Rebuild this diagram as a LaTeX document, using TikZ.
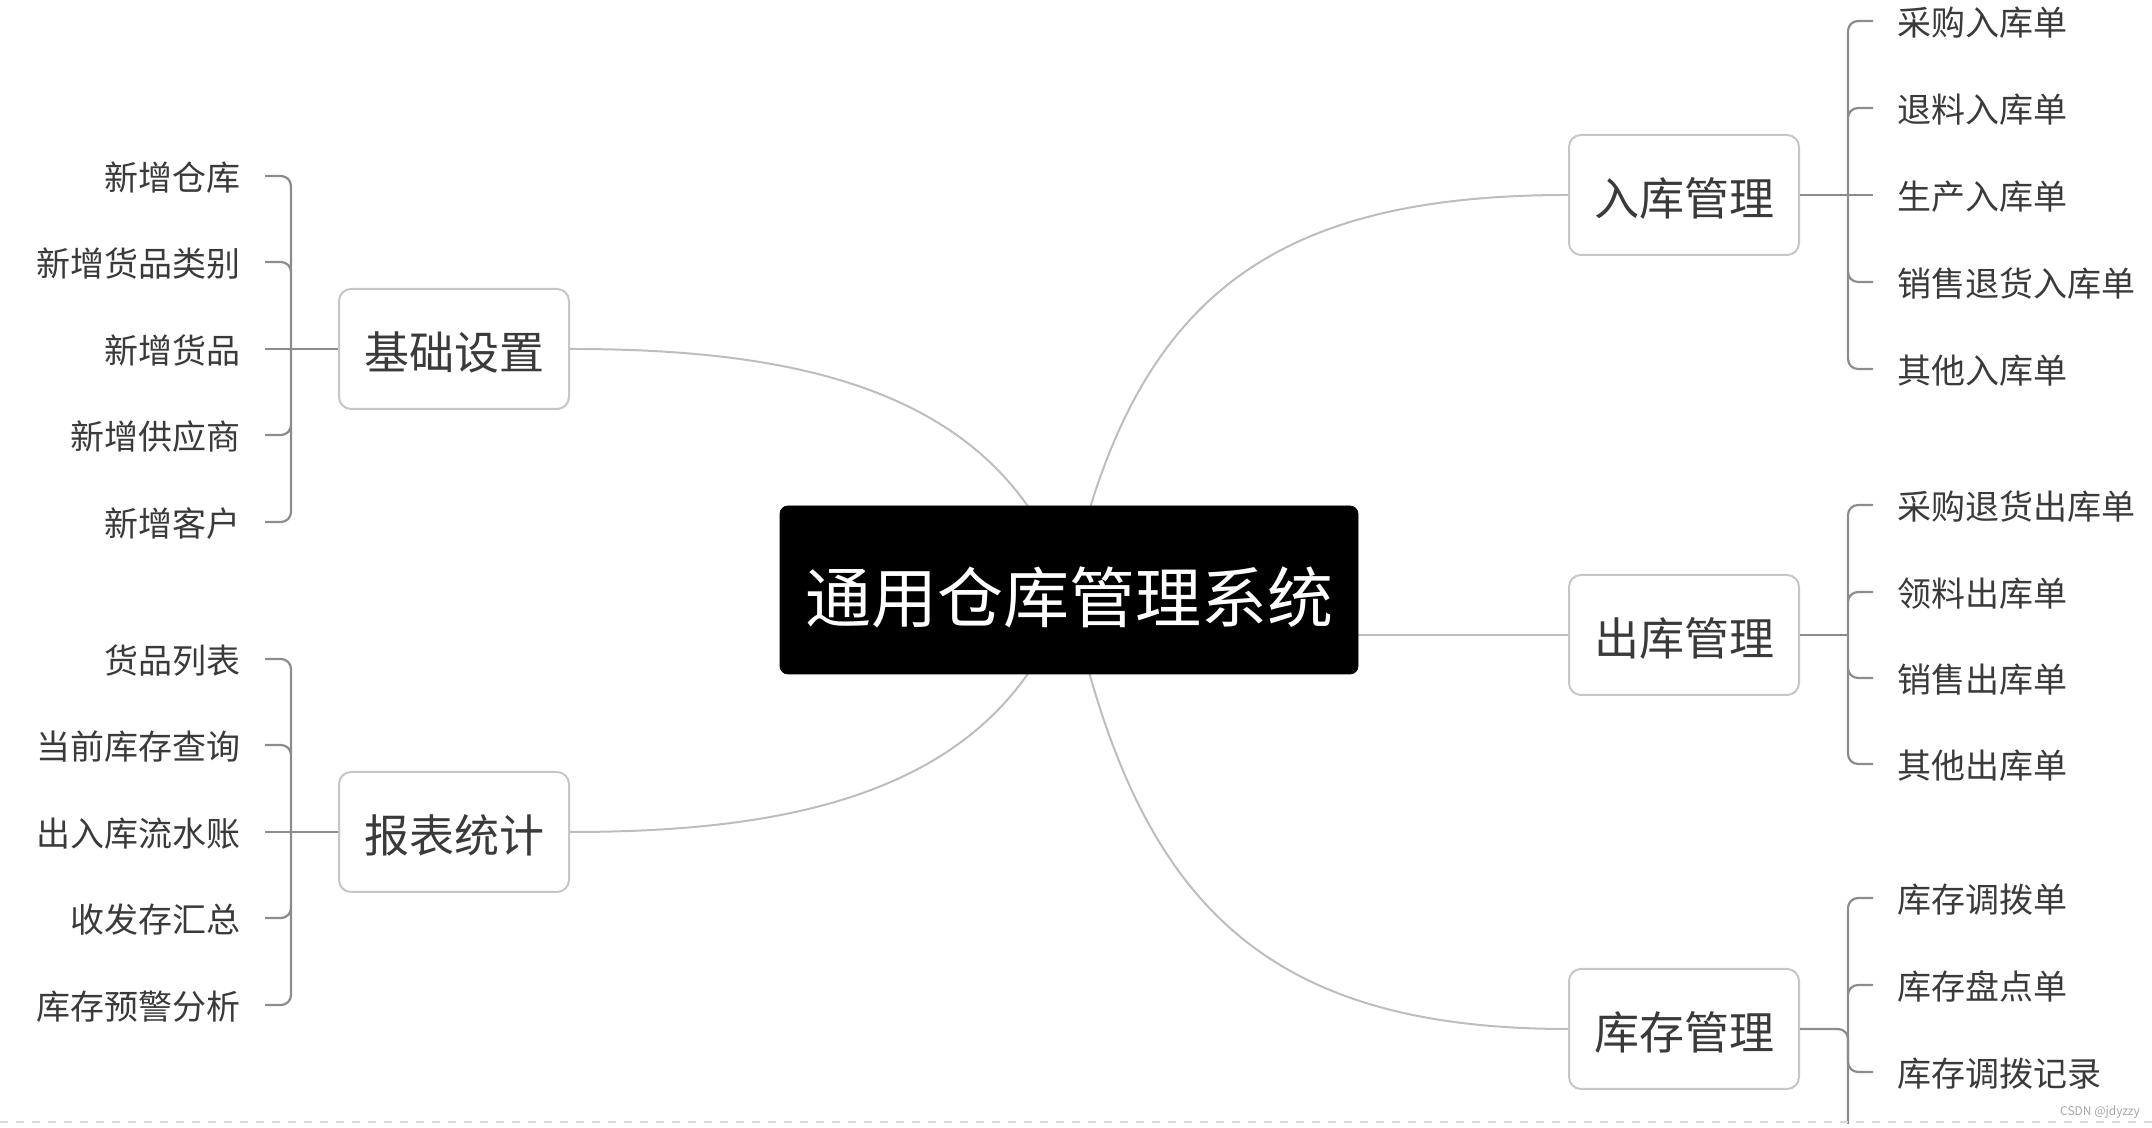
\documentclass[tikz,border=0pt]{standalone}
\usepackage{fontspec}
\setmainfont{Noto Sans CJK SC}
\usepackage{tikz}
\usetikzlibrary{backgrounds}
\definecolor{mapink}{HTML}{3A3A3A}
\definecolor{mapline}{HTML}{BDBDBD}
\definecolor{mapbracket}{HTML}{8C8C8C}
\definecolor{mapborder}{HTML}{C6C6C6}

\begin{document}
\begin{tikzpicture}[
  x=0.5pt, y=0.5pt,
  root/.style={rectangle, rounded corners=4pt, draw=black, fill=black, text=white, font=\fontsize{33}{36}\selectfont, text height=33pt, text depth=0pt, minimum width=289pt, minimum height=84pt, inner sep=0pt},
  topic/.style={rectangle, rounded corners=6pt, draw=mapborder, line width=1pt, fill=white, text=mapink, font=\fontsize{22.5}{26}\selectfont, text height=21pt, text depth=0pt, minimum width=115pt, minimum height=60pt, inner sep=0pt},
  leaf/.style={text=mapink, font=\fontsize{17}{20}\selectfont, text height=14.3pt, text depth=0pt, inner sep=0pt},
  branch/.style={draw=mapline, line width=1pt},
  bracket/.style={draw=mapbracket, line width=1.1pt, rounded corners=5pt}
]
  \useasboundingbox (0,0) rectangle (2152,1128);

  % Centre and main topics
  \node[root] (root) at (1069,538) {通用仓库管理系统};
  \node[topic] (base) at (454,779) {基础设置};
  \node[topic] (report) at (454,296) {报表统计};
  \node[topic] (inb) at (1684,933) {入库管理};
  \node[topic] (outb) at (1684,493) {出库管理};
  \node[topic] (stock) at (1684,99) {库存管理};

  % Left column: base settings
  \node[leaf, anchor=east] (b1) at (241,952) {新增仓库};
  \node[leaf, anchor=east] (b2) at (241,866) {新增货品类别};
  \node[leaf, anchor=east] (b3) at (241,779) {新增货品};
  \node[leaf, anchor=east] (b4) at (241,693) {新增供应商};
  \node[leaf, anchor=east] (b5) at (241,606) {新增客户};
  \coordinate (jb) at (291,779);

  % Left column: reports
  \node[leaf, anchor=east] (r1) at (241,469) {货品列表};
  \node[leaf, anchor=east] (r2) at (241,383) {当前库存查询};
  \node[leaf, anchor=east] (r3) at (241,296) {出入库流水账};
  \node[leaf, anchor=east] (r4) at (241,210) {收发存汇总};
  \node[leaf, anchor=east] (r5) at (241,123) {库存预警分析};
  \coordinate (jr) at (291,296);

  % Right column: inbound
  \node[leaf, anchor=west] (i1) at (1897,1107) {采购入库单};
  \node[leaf, anchor=west] (i2) at (1897,1020) {退料入库单};
  \node[leaf, anchor=west] (i3) at (1897,933) {生产入库单};
  \node[leaf, anchor=west] (i4) at (1897,846) {销售退货入库单};
  \node[leaf, anchor=west] (i5) at (1897,759) {其他入库单};
  \coordinate (ji) at (1848,933);

  % Right column: outbound
  \node[leaf, anchor=west] (o1) at (1897,623) {采购退货出库单};
  \node[leaf, anchor=west] (o2) at (1897,536) {领料出库单};
  \node[leaf, anchor=west] (o3) at (1897,450) {销售出库单};
  \node[leaf, anchor=west] (o4) at (1897,364) {其他出库单};
  \coordinate (jo) at (1848,493);

  % Right column: stock
  \node[leaf, anchor=west] (s1) at (1897,230) {库存调拨单};
  \node[leaf, anchor=west] (s2) at (1897,143) {库存盘点单};
  \node[leaf, anchor=west] (s3) at (1897,56) {库存调拨记录};
  \coordinate (js) at (1848,99);
  \coordinate (jsend) at (1848,4);

  % Curves from the centre
  \begin{scope}[on background layer]
    \draw[branch] (base.east) to[out=0,in=108] (root.center);
    \draw[branch] (report.east) to[out=0,in=252] (root.center);
    \draw[branch] (root.center) to[out=78,in=180,looseness=1.2] (inb.west);
    \draw[branch] (root.center) to[out=-78,in=180,looseness=1.2] (stock.west);
    \draw[branch] (outb.west) -- (outb.west -| root.east);
  \end{scope}

  % Brackets
  \draw[bracket] ([xshift=12pt]b1.east) -| (jb) ([xshift=12pt]b2.east) -| (jb)
    ([xshift=12pt]b4.east) -| (jb) ([xshift=12pt]b5.east) -| (jb);
  \draw[bracket] ([xshift=12pt]b3.east) -- (base.west);
  \draw[bracket] ([xshift=12pt]r1.east) -| (jr) ([xshift=12pt]r2.east) -| (jr)
    ([xshift=12pt]r4.east) -| (jr) ([xshift=12pt]r5.east) -| (jr);
  \draw[bracket] ([xshift=12pt]r3.east) -- (report.west);

  \draw[bracket] ([xshift=-12pt]i1.west) -| (ji) ([xshift=-12pt]i2.west) -| (ji)
    ([xshift=-12pt]i4.west) -| (ji) ([xshift=-12pt]i5.west) -| (ji);
  \draw[bracket] (inb.east) -- ([xshift=-12pt]i3.west);
  \draw[bracket] ([xshift=-12pt]o1.west) -| (jo) ([xshift=-12pt]o2.west) -| (jo)
    ([xshift=-12pt]o3.west) -| (jo) ([xshift=-12pt]o4.west) -| (jo);
  \draw[bracket] (outb.east) -- (jo);
  \draw[bracket] ([xshift=-12pt]s1.west) -| (js) ([xshift=-12pt]s2.west) -| (js)
    ([xshift=-12pt]s3.west) -| (js);
  \draw[bracket] (stock.east) -- (js) -- (jsend);

  % Page edge
  \coordinate (edgel) at (0,6);
  \coordinate (edger) at (2152,6);
  \draw[draw=gray!30, line width=1pt, dash pattern=on 4pt off 4pt] (edgel) -- (edger);
  \node[text=gray!70, font=\fontsize{6}{7}\selectfont, inner sep=0pt] (mark) at (2100,16) {CSDN @jdyzzy};
\end{tikzpicture}
\end{document}
